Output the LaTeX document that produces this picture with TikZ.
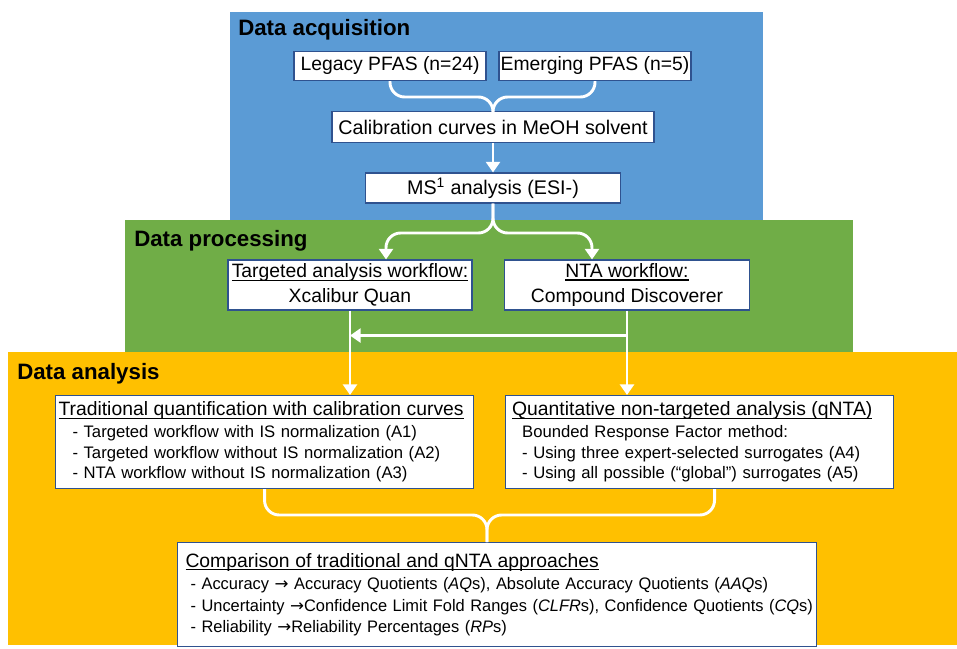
\documentclass[tikz,border=0pt]{standalone}
\usepackage{fontspec}
\setmainfont{Liberation Sans}
\newfontfamily\condfont[FakeStretch=0.985]{Liberation Sans}
\newfontfamily\arrowfont{DejaVu Sans}
\usetikzlibrary{arrows.meta,calc}
\definecolor{acqblue}{HTML}{5B9BD5}
\definecolor{procgreen}{HTML}{70AD47}
\definecolor{anagold}{HTML}{FFC000}
\definecolor{edgeblue}{HTML}{2F528F}
\newcommand\ulbar[1]{\setbox0\hbox{#1}\rlap{\vrule height -1.5pt depth 2.3pt width \wd0}\box0}
\newcommand\rarr{{\arrowfont\fontsize{12.5}{13}\selectfont →}}
\begin{document}
\begin{tikzpicture}[x=0.75pt,y=-0.75pt]
  \tikzstyle{box}=[draw=edgeblue,fill=white,line width=0.8pt,inner sep=0pt]
  \tikzstyle{textbox}=[box,anchor=north west,align=left]
  \tikzstyle{link}=[draw=white,line width=2.2pt,-{Triangle[width=10.5pt,length=8pt]}]
  \tikzstyle{brace}=[draw=white,line width=2.2pt,rounded corners=11pt]
  \tikzstyle{title}=[anchor=base west,inner sep=0pt,font=\fontsize{16.7}{19}\selectfont\bfseries]
  \useasboundingbox (0,0) rectangle (957,649);
  % panels
  \fill[anagold] (8,352) rectangle (957,645);
  \fill[procgreen] (125,220) rectangle (853,352);
  \fill[acqblue] (230,12) rectangle (763,220);
  \node[title] (T_acq) at (238,36) {Data acquisition};
  \node[title] (T_proc) at (134,247) {Data processing};
  \node[title] (T_ana) at (17,379) {Data analysis};

  % data acquisition
  \node[box,minimum width=144pt,minimum height=21.75pt,font=\fontsize{14.5}{18}\selectfont] (A_leg) at (390,66) {Legacy PFAS (n=24)};
  \node[box,minimum width=144pt,minimum height=21.75pt,font=\fontsize{14.5}{18}\selectfont] (A_emg) at (595,66) {Emerging PFAS (n=5)};
  \node[box,minimum width=241.5pt,minimum height=23.25pt,font=\fontsize{14.8}{18}\selectfont] (A_cal) at (493,127) {Calibration curves in MeOH solvent};
  \node[box,minimum width=191.25pt,minimum height=22.5pt,font=\fontsize{14.8}{18}\selectfont] (A_ms) at (493,188) {MS\textsuperscript{1} analysis (ESI-)};
  \coordinate (B_top) at (493,97);
  \draw[brace] (A_leg.south) |- (B_top) -- (A_cal.north);
  \draw[brace] (A_emg.south) |- (B_top) -- (A_cal.north);
  \draw[link] (A_cal) -- (A_ms);

  % data processing
  \node[box,align=center,minimum width=183pt,minimum height=37.5pt,font=\fontsize{14.5}{18.75}\selectfont] (P_tar) at (350,285)
        {\ulbar{Targeted analysis workflow:}\\Xcalibur Quan};
  \node[box,align=center,minimum width=183.75pt,minimum height=37.5pt,font=\fontsize{14.5}{18.75}\selectfont] (P_nta) at (627,285)
        {\ulbar{NTA workflow:}\\Compound Discoverer};
  \coordinate (S_l) at (386,233);
  \coordinate (S_r) at (592,233);
  \draw[link,rounded corners=11pt] (A_ms.south) |- (S_l) -- (S_l |- P_tar.north);
  \draw[link,rounded corners=11pt] (A_ms.south) |- (S_r) -- (S_r |- P_nta.north);

  % data analysis
  \node[textbox,text width=309pt,minimum height=69.75pt,inner xsep=2.25pt,inner ysep=4.5pt,font=\fontsize{12.5}{15.4}\selectfont] (N_trad) at (55,395)
        {{\fontsize{14.5}{17}\selectfont\ulbar{Traditional quantification with calibration curves}}\\[1pt]
         \hspace*{10.5pt}- Targeted workflow with IS normalization (A1)\\
         \hspace*{10.5pt}- Targeted workflow without IS normalization (A2)\\
         \hspace*{10.5pt}- NTA workflow without IS normalization (A3)};
  \node[textbox,text width=281pt,minimum height=69.75pt,inner xsep=5pt,inner ysep=4.5pt,font=\fontsize{12.5}{15.4}\selectfont] (N_qnta) at (505,395)
        {{\fontsize{14.5}{17}\selectfont\ulbar{Quantitative non-targeted analysis (qNTA)}}\\[1pt]
         \hspace*{7.5pt}Bounded Response Factor method:\\
         \hspace*{7.5pt}- Using three expert-selected surrogates (A4)\\
         \hspace*{7.5pt}- Using all possible (“global”) surrogates (A5)};
  \node[textbox,text width=467.25pt,minimum height=70.5pt,inner xsep=6pt,inner ysep=8pt,font=\condfont\fontsize{12.5}{16}\selectfont] (N_comp) at (177,542)
        {{\rmfamily\fontsize{14.5}{17}\selectfont\ulbar{Comparison of traditional and qNTA approaches}}\\[1pt]
         \hspace*{3.75pt}\mbox{- Accuracy \rarr{} Accuracy Quotients (\textit{AQ}s), Absolute Accuracy Quotients (\textit{AAQ}s)}\\
         \hspace*{3.75pt}\mbox{- Uncertainty \rarr{}Confidence Limit Fold Ranges (\textit{CLFR}s), Confidence Quotients (\textit{CQ}s)}\\
         \hspace*{3.75pt}\mbox{- Reliability \rarr{}Reliability Percentages (\textit{RP}s)}};
  \draw[link] (P_tar.south) -- (P_tar.south |- N_trad.north);
  \draw[link] (P_nta.south) -- (P_nta.south |- N_qnta.north);
  \coordinate (J_r) at ($(P_nta.south)+(0,25)$);
  \draw[link] (J_r) -- (J_r -| P_tar.south);
  \coordinate (B_bot) at (487,515);
  \draw[brace] (N_trad.south) |- (B_bot) -- (B_bot |- N_comp.north);
  \draw[brace] ($(N_qnta.south)+(15,0)$) |- (B_bot) -- (B_bot |- N_comp.north);
\end{tikzpicture}
\end{document}
